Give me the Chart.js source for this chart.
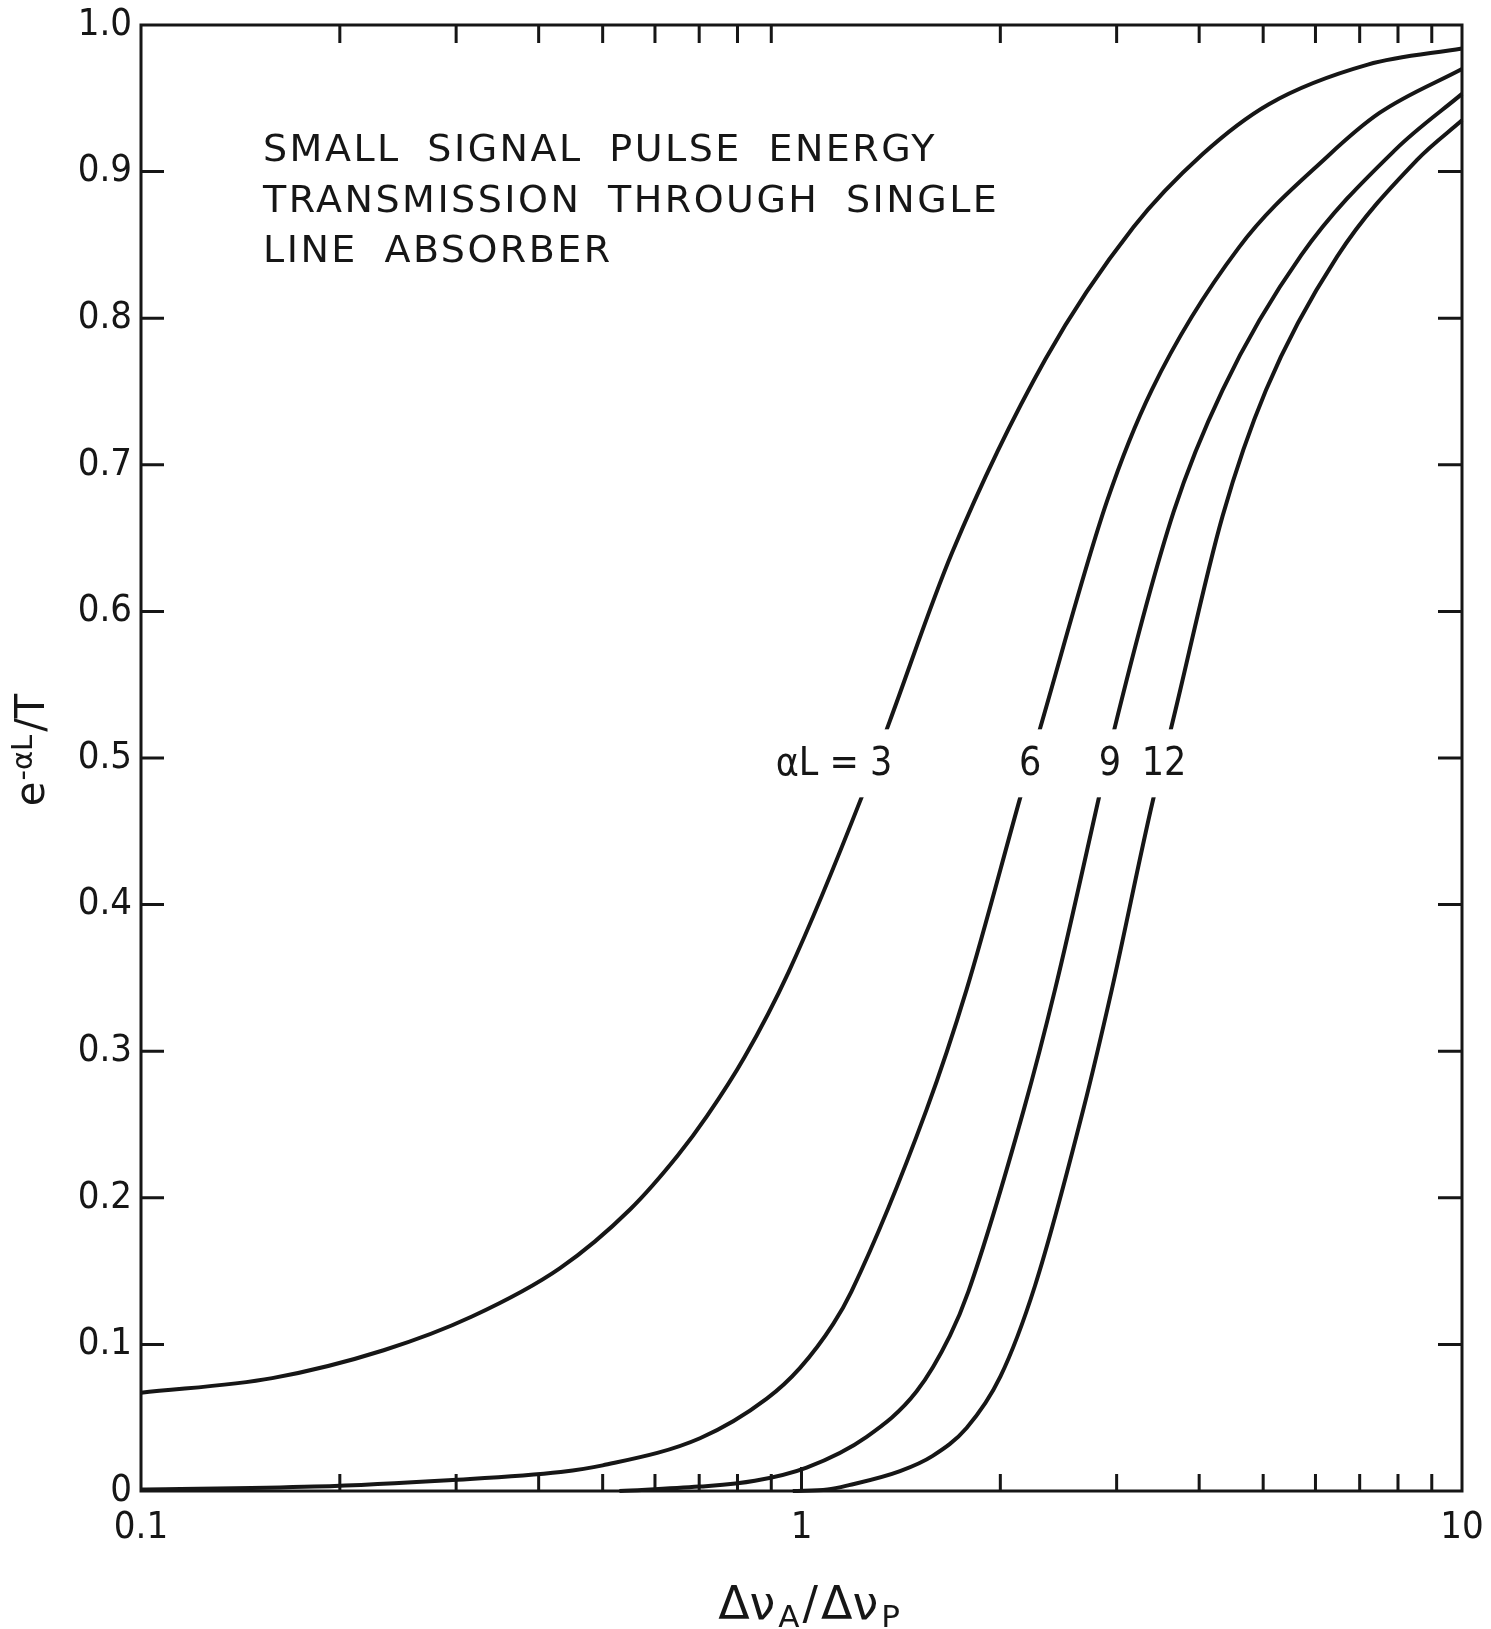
<!DOCTYPE html>
<html>
<head>
<meta charset="utf-8">
<script src="https://cdn.jsdelivr.net/npm/chart.js@4.4.1/dist/chart.umd.min.js"></script>
<style>
  html, body { margin: 0; padding: 0; background: #fff; }
</style>
</head>
<body>
<canvas id="absorberChart" width="1491" height="1629"></canvas>
<script>
// values: x = dnuA/dnuP (log axis), y = e^-aL / T
const curve3X = [0.1, 0.158, 0.233, 0.317, 0.431, 0.55, 0.65, 0.72, 0.82, 0.956, 1.235, 1.36, 1.69, 2.34, 3.18, 4.05, 5.1, 7.2, 10];
const curve3Y = [0.067, 0.077, 0.096, 0.119, 0.152, 0.192, 0.229, 0.256, 0.296, 0.354, 0.474, 0.525, 0.640, 0.772, 0.862, 0.912, 0.946, 0.973, 0.984];

const curve6X = [0.1, 0.183, 0.292, 0.432, 0.5, 0.702, 0.886, 0.995, 1.117, 1.19, 1.546, 1.778, 2.15, 2.30, 2.90, 3.39, 4.59, 6.28, 7.5, 10];
const curve6Y = [0.001, 0.003, 0.0074, 0.013, 0.0175, 0.036, 0.063, 0.084, 0.114, 0.136, 0.26, 0.342, 0.475, 0.521, 0.675, 0.751, 0.848, 0.911, 0.940, 0.970];

const curve9X = [0.53, 0.7, 0.85, 1.018, 1.255, 1.494, 1.678, 1.789, 2.17, 2.42, 2.83, 2.97, 3.66, 4.34, 5.71, 7.93, 10];
const curve9Y = [0, 0.003, 0.007, 0.016, 0.037, 0.068, 0.106, 0.136, 0.26, 0.342, 0.476, 0.518, 0.668, 0.751, 0.843, 0.915, 0.953];

const curve12X = [0.97, 1.095, 1.18, 1.41, 1.58, 1.778, 2.0, 2.257, 2.67, 2.95, 3.40, 3.63, 4.34, 5.05, 6.47, 8.55, 10];
const curve12Y = [0, 0.001, 0.004, 0.0136, 0.024, 0.043, 0.078, 0.14, 0.26, 0.342, 0.470, 0.521, 0.665, 0.751, 0.842, 0.908, 0.935];

const curveLabels = ['αL = 3', '6', '9', '12'];
const curveLabelX = [1.12, 2.22, 2.93, 3.54];
const curveLabelY = 0.495;

const xTickLabels = ['0.1', '1', '10'];
const xMinorTicks = [0.2, 0.3, 0.4, 0.5, 0.6, 0.7, 0.8, 0.9, 2, 3, 4, 5, 6, 7, 8, 9];
const titleLines = ['SMALL SIGNAL PULSE ENERGY', 'TRANSMISSION THROUGH SINGLE', 'LINE ABSORBER'];

const ink = '#161616';
const tickFont = '"DejaVu Sans Condensed", "DejaVu Sans", sans-serif';
const textFont = '"DejaVu Sans", sans-serif';

function pts(xs, ys) {
    return xs.map((v, i) => ({ x: v, y: ys[i] }));
}

function curve(label, xs, ys) {
    return {
        label: label,
        data: pts(xs, ys),
        borderColor: ink,
        borderWidth: 4,
        pointRadius: 0,
        fill: false,
        cubicInterpolationMode: 'monotone',
        clip: 6
    };
}

// white background
const paper = {
    id: 'paper',
    beforeDraw(chart) {
        const ctx = chart.ctx;
        ctx.save();
        ctx.fillStyle = '#fff';
        ctx.fillRect(0, 0, chart.width, chart.height);
        ctx.restore();
    }
};

// frame with inward ticks on all four sides
const frameTicks = {
    id: 'frameTicks',
    afterDatasetsDraw(chart) {
        const { ctx, chartArea: a, scales: { x, y } } = chart;
        ctx.save();
        ctx.strokeStyle = ink;
        ctx.lineWidth = 3;
        ctx.strokeRect(a.left, a.top, a.right - a.left, a.bottom - a.top);
        ctx.beginPath();
        xMinorTicks.forEach(v => {
            const px = x.getPixelForValue(v);
            ctx.moveTo(px, a.bottom); ctx.lineTo(px, a.bottom - 17);
            ctx.moveTo(px, a.top); ctx.lineTo(px, a.top + 18);
        });
        const p1 = x.getPixelForValue(1);
        ctx.moveTo(p1, a.bottom); ctx.lineTo(p1, a.bottom - 24);
        y.ticks.forEach(t => {
            if (t.value <= 0.001 || t.value >= 0.999) return;
            const py = y.getPixelForValue(t.value);
            ctx.moveTo(a.left, py); ctx.lineTo(a.left + 23, py);
            ctx.moveTo(a.right, py); ctx.lineTo(a.right - 24, py);
        });
        ctx.stroke();
        ctx.restore();
    }
};

// title block, curve labels (cutting the curves) and axis titles
const texts = {
    id: 'texts',
    afterDatasetsDraw(chart) {
        const { ctx, chartArea: a, scales: { x, y } } = chart;
        ctx.save();
        ctx.fillStyle = ink;

        // curve labels with a gap in the lines
        ctx.font = '39px ' + tickFont;
        ctx.textAlign = 'center';
        ctx.textBaseline = 'middle';
        curveLabels.forEach((s, i) => {
            const px = x.getPixelForValue(curveLabelX[i]);
            const py = y.getPixelForValue(curveLabelY);
            const w = ctx.measureText(s).width + 12;
            ctx.fillStyle = '#fff';
            ctx.fillRect(px - w / 2, py - 36, w, 68);
            ctx.fillStyle = ink;
            ctx.fillText(s, px, py);
        });

        // title in the upper left
        ctx.textAlign = 'left';
        ctx.textBaseline = 'alphabetic';
        ctx.font = '38px ' + textFont;
        ctx.letterSpacing = '2.5px';
        ctx.wordSpacing = '12px';
        titleLines.forEach((s, i) => {
            ctx.fillText(s, a.left + 122, a.top + 136 + i * 50.5);
        });
        ctx.letterSpacing = '0px';
        ctx.wordSpacing = '0px';

        // y axis title: e^-aL / T
        ctx.save();
        ctx.translate(44, (a.top + a.bottom) / 2 - 8);
        ctx.rotate(-Math.PI / 2);
        const big = '40px ' + textFont, sup = '29px ' + textFont;
        ctx.font = big; const wE = ctx.measureText('e').width;
        ctx.font = sup; const wS = ctx.measureText('-αL').width;
        ctx.font = big; const wT = ctx.measureText('/T').width;
        let sx = -(wE + wS + wT + 4) / 2;
        ctx.font = big; ctx.fillText('e', sx, 0); sx += wE + 1;
        ctx.font = sup; ctx.fillText('-αL', sx, -12); sx += wS + 3;
        ctx.font = big; ctx.fillText('/T', sx, 0);
        ctx.restore();

        // x axis title: dnuA / dnuP
        const parts = [['Δν', '46px', 0], ['A', '31px', 8], ['/', '46px', 0], ['Δν', '46px', 0], ['P', '31px', 8]];
        let total = 0;
        parts.forEach(p => { ctx.font = p[1] + ' ' + textFont; total += ctx.measureText(p[0]).width + 3; });
        let tx = (a.left + a.right) / 2 - total / 2 + 9;
        const base = chart.height - 10;
        parts.forEach(p => {
            ctx.font = p[1] + ' ' + textFont;
            ctx.fillText(p[0], tx, base + p[2]);
            tx += ctx.measureText(p[0]).width + 3;
        });

        ctx.restore();
    }
};

const ctx = document.getElementById('absorberChart').getContext('2d');
const chart = new Chart(ctx, {
    type: 'line',
    data: {
        datasets: [
            curve('αL = 3', curve3X, curve3Y),
            curve('αL = 6', curve6X, curve6Y),
            curve('αL = 9', curve9X, curve9Y),
            curve('αL = 12', curve12X, curve12Y)
        ]
    },
    options: {
        responsive: false,
        animation: false,
        layout: { padding: { top: 25, right: 29, left: 0, bottom: 0 } },
        plugins: {
            legend: { display: false },
            tooltip: { enabled: false }
        },
        scales: {
            x: {
                type: 'logarithmic',
                min: 0.1,
                max: 10,
                grid: { display: false, drawTicks: false },
                border: { display: false },
                afterFit: s => { s.height = 138; s.paddingLeft = 0; s.paddingRight = 0; },
                afterBuildTicks: s => { s.ticks = xTickLabels.map(v => ({ value: parseFloat(v) })); },
                ticks: {
                    autoSkip: false,
                    maxRotation: 0,
                    padding: 14,
                    color: ink,
                    font: { family: tickFont, size: 38 },
                    callback: v => xTickLabels.find(t => parseFloat(t) === v) || ''
                }
            },
            y: {
                type: 'linear',
                min: 0,
                max: 1,
                grid: { display: false, drawTicks: false },
                border: { display: false },
                afterFit: s => { s.width = 141; s.paddingTop = 0; s.paddingBottom = 0; },
                ticks: {
                    stepSize: 0.1,
                    padding: 9,
                    color: ink,
                    font: { family: tickFont, size: 38 },
                    callback: v => (Math.abs(v) < 1e-9 ? '0' : v.toFixed(1))
                }
            }
        }
    },
    plugins: [paper, frameTicks, texts]
});
</script>
</body>
</html>
